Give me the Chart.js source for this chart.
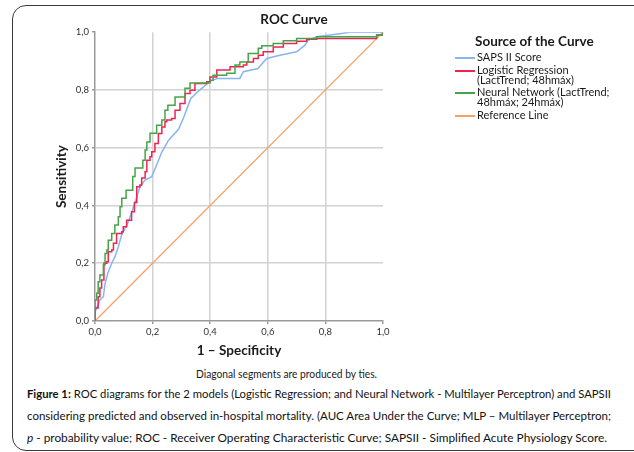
<!DOCTYPE html>
<html>
<head>
<meta charset="utf-8">
<script src="https://cdn.jsdelivr.net/npm/chart.js@4.4.1/dist/chart.umd.min.js"></script>
<style>
  html, body { margin: 0; padding: 0; background: #fff; }
  body { width: 634px; height: 452px; position: relative; overflow: hidden; font-family: Lato, "Liberation Sans", sans-serif; color: #1a1a1a; }
  .frame { position: absolute; left: 12px; top: 5px; width: 700px; height: 444px; border: 1.5px solid #3a3a3a; border-radius: 14px; }
  #roc { position: absolute; left: 30px; top: 0; }
  .legend { position: absolute; left: 455px; top: 33px; }
  .legend__title { font-weight: bold; font-size: 13.5px; line-height: 17px; margin-left: 20px; white-space: nowrap; }
  .legend__row { position: relative; padding-left: 22px; font-size: 11px; line-height: 10px; margin-top: 2.4px; white-space: nowrap; }
  .legend__row:first-of-type { margin-top: 0; }
  .legend__sw { position: absolute; left: 0; top: 5px; width: 20px; height: 2px; }
  .note { position: absolute; left: 196px; top: 368px; font-size: 10.5px; white-space: nowrap; }
  .cap { position: absolute; left: 27px; font-size: 11.5px; white-space: nowrap; transform-origin: 0 50%; color: #111; }
</style>
</head>
<body>
<div class="frame"></div>
<canvas id="roc" width="528" height="361"></canvas>
<div class="legend" id="legend"></div>
<div class="note fit" data-w="181">Diagonal segments are produced by ties.</div>
<div class="cap fit" data-w="584" style="top:387px"><b>Figure 1:</b> ROC diagrams for the 2 models (Logistic Regression; and Neural Network - Multilayer Perceptron) and SAPSII</div>
<div class="cap fit" data-w="584" style="top:409px">considering predicted and observed in-hospital mortality. (AUC Area Under the Curve; MLP – Multilayer Perceptron;</div>
<div class="cap fit" data-w="580" style="top:431px"><i>p</i> - probability value; ROC - Receiver Operating Characteristic Curve; SAPSII - Simplified Acute Physiology Score.</div>

<script>
// ---- data (1 - specificity, sensitivity) ----
const tickLabels = ["0,0", "0,2", "0,4", "0,6", "0,8", "1,0"];

const sapsFpr = [0, 0, 0.006, 0.017, 0.029, 0.035, 0.046, 0.058, 0.069, 0.081, 0.093, 0.104, 0.116, 0.127, 0.139, 0.156, 0.174, 0.197, 0.214, 0.232, 0.255, 0.29, 0.31, 0.332, 0.36, 0.4, 0.425, 0.503, 0.515, 0.566, 0.596, 0.642, 0.7, 0.729, 0.74, 0.77, 0.85, 0.885, 1];
const sapsTpr = [0, 0.03, 0.045, 0.073, 0.084, 0.13, 0.17, 0.2, 0.222, 0.257, 0.3, 0.32, 0.345, 0.375, 0.41, 0.465, 0.488, 0.5, 0.54, 0.585, 0.625, 0.664, 0.71, 0.77, 0.797, 0.83, 0.84, 0.84, 0.863, 0.874, 0.909, 0.92, 0.932, 0.955, 0.972, 0.984, 0.995, 1, 1];

const lrFpr = [0, 0, 0.011, 0.017, 0.023, 0.031, 0.041, 0.046, 0.058, 0.064, 0.075, 0.093, 0.098, 0.11, 0.127, 0.137, 0.145, 0.156, 0.162, 0.174, 0.18, 0.191, 0.197, 0.208, 0.22, 0.232, 0.243, 0.249, 0.266, 0.278, 0.295, 0.3125, 0.33, 0.347, 0.388, 0.399, 0.423, 0.463, 0.469, 0.515, 0.527, 0.55, 0.567, 0.584, 0.619, 0.654, 0.7, 0.735, 0.77, 0.966, 0.978, 1];
const lrTpr = [0, 0.045, 0.084, 0.114, 0.142, 0.2, 0.205, 0.24, 0.246, 0.269, 0.303, 0.309, 0.326, 0.349, 0.378, 0.41, 0.465, 0.471, 0.495, 0.517, 0.557, 0.569, 0.586, 0.615, 0.649, 0.672, 0.69, 0.696, 0.701, 0.73, 0.753, 0.788, 0.799, 0.822, 0.828, 0.845, 0.869, 0.869, 0.88, 0.886, 0.897, 0.909, 0.92, 0.932, 0.949, 0.961, 0.969, 0.976, 0.978, 0.978, 0.99, 1];

const nnFpr = [0, 0, 0.006, 0.011, 0.017, 0.029, 0.035, 0.041, 0.046, 0.058, 0.069, 0.081, 0.087, 0.093, 0.108, 0.131, 0.139, 0.166, 0.174, 0.18, 0.191, 0.214, 0.232, 0.243, 0.253, 0.278, 0.3125, 0.33, 0.399, 0.41, 0.457, 0.486, 0.503, 0.532, 0.567, 0.579, 0.619, 0.654, 0.7, 0.77, 0.978, 1];
const nnTpr = [0, 0.073, 0.096, 0.136, 0.159, 0.194, 0.234, 0.246, 0.28, 0.303, 0.332, 0.361, 0.396, 0.425, 0.453, 0.5, 0.53, 0.557, 0.592, 0.62, 0.65, 0.678, 0.696, 0.73, 0.747, 0.776, 0.806, 0.824, 0.834, 0.851, 0.858, 0.886, 0.897, 0.926, 0.944, 0.953, 0.961, 0.97, 0.978, 0.984, 0.99, 1];

const refFpr = [0, 1];
const refTpr = [0, 1];

const seriesNames = [
  ["SAPS II Score"],
  ["Logistic Regression", "(LactTrend; 48hmáx)"],
  ["Neural Network (LactTrend;", "48hmáx; 24hmáx)"],
  ["Reference Line"]
];
const seriesColors = ["#86b5f0", "#ec2553", "#45a445", "#f7a064"];

function pts(xs, ys){
  return xs.map((x, i) => ({ x: x, y: ys[i] }));
}

function fitText(){
  document.querySelectorAll(".fit").forEach(n => {
    const w = n.getBoundingClientRect().width;
    const target = +n.dataset.w;
    if(w > 0) n.style.transform = `scaleX(${(target / w).toFixed(4)})`;
    n.style.transformOrigin = "0 50%";
  });
}

function renderLegend(datasets){
  const wrap = document.getElementById("legend");
  wrap.innerHTML = `<div class="legend__title">Source of the Curve</div>`;
  datasets.forEach((d, i) => {
    const row = document.createElement("div");
    row.className = "legend__row";
    row.innerHTML = `<span class="legend__sw" style="background:${d.borderColor}"></span>${seriesNames[i].join("<br>")}`;
    wrap.appendChild(row);
  });
}

const gridColor = ctx => (ctx.tick && (ctx.tick.value === 0 || ctx.tick.value === 1)) ? "rgba(0,0,0,0)" : "#d2d2d2";
const tickFont = { family: "Lato", size: 9.5 };
const titleFont = { family: "Lato", size: 13.5, weight: "bold" };

const datasets = [
  { label: seriesNames[0].join(" "), data: pts(sapsFpr, sapsTpr), borderColor: seriesColors[0], borderWidth: 1.5, order: 3 },
  { label: seriesNames[1].join(" "), data: pts(lrFpr, lrTpr), borderColor: seriesColors[1], borderWidth: 1.5, stepped: true, order: 2 },
  { label: seriesNames[2].join(" "), data: pts(nnFpr, nnTpr), borderColor: seriesColors[2], borderWidth: 1.5, stepped: true, order: 1 },
  { label: seriesNames[3].join(" "), data: pts(refFpr, refTpr), borderColor: seriesColors[3], borderWidth: 1.3, order: 4 }
];

const chart = new Chart(document.getElementById("roc"), {
  type: "line",
  data: { datasets: datasets },
  options: {
    responsive: false,
    animation: false,
    devicePixelRatio: 1,
    layout: { padding: 0 },
    elements: { point: { radius: 0 }, line: { tension: 0, fill: false } },
    plugins: {
      legend: { display: false },
      tooltip: { enabled: false },
      title: { display: true, text: "ROC Curve", color: "#1a1a1a", font: titleFont, padding: { top: 12, bottom: 4 } }
    },
    scales: {
      x: {
        type: "linear", min: 0, max: 1,
        ticks: { stepSize: 0.2, font: tickFont, color: "#333", padding: 2, maxRotation: 0,
                 callback: (v) => tickLabels[Math.round(v * 5)] },
        grid: { color: gridColor, lineWidth: 1.5, tickLength: 3, tickColor: "#9a9a9a" },
        border: { color: "#9a9a9a", width: 1.5 },
        title: { display: true, text: "1 – Specificity", color: "#1a1a1a", font: titleFont, padding: { top: 0, bottom: 2 } },
        afterFit: s => { s.height = 40; }
      },
      y: {
        type: "linear", min: 0, max: 1, position: "left",
        ticks: { stepSize: 0.2, font: tickFont, color: "#333", padding: 3,
                 callback: (v) => tickLabels[Math.round(v * 5)] },
        grid: { color: gridColor, lineWidth: 1.5, tickLength: 3, tickColor: "#9a9a9a" },
        border: { color: "#9a9a9a", width: 1.5 },
        title: { display: true, text: "Sensitivity", color: "#1a1a1a", font: titleFont, padding: { top: 24, bottom: 0 } },
        afterFit: s => { s.width = 65; }
      },
      // empty axis on the right only reserves room for the legend
      yRoom: {
        type: "linear", position: "right", min: 0, max: 1,
        ticks: { display: false }, grid: { display: false }, border: { display: false },
        afterFit: s => { s.width = 175; }
      }
    }
  }
});

renderLegend(chart.data.datasets);
fitText();
</script>
</body>
</html>
